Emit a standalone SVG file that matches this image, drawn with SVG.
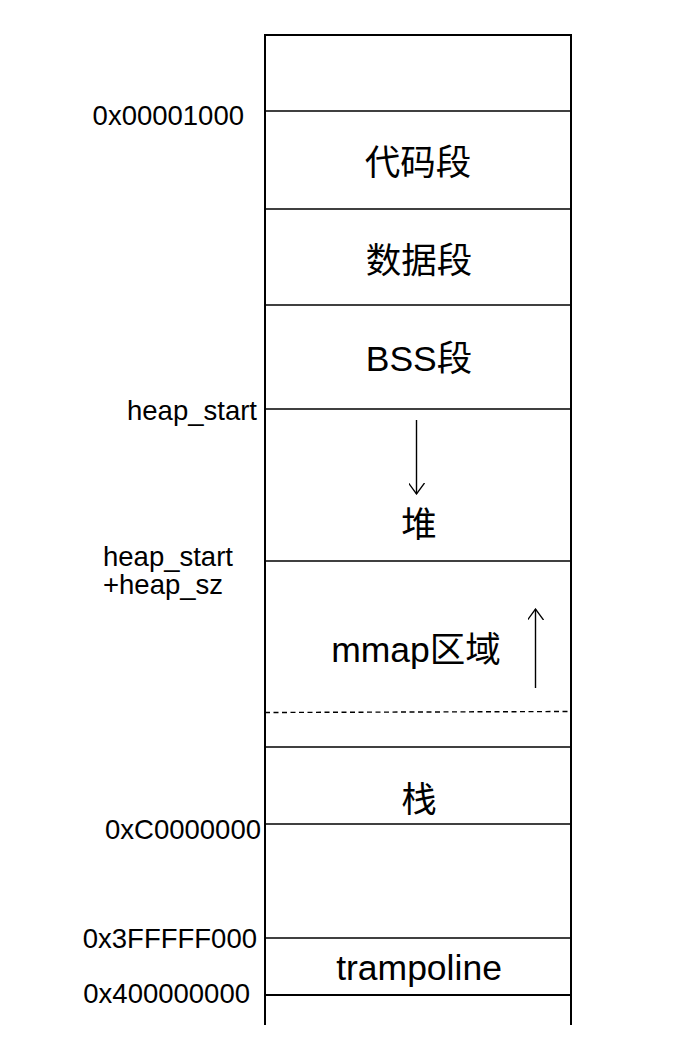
<svg xmlns="http://www.w3.org/2000/svg" width="685" height="1046" viewBox="0 0 685 1046">
<style>
.seg{font-family:"Liberation Sans","Noto Sans CJK SC",sans-serif;font-size:35.5px;fill:#000;text-anchor:middle}
.lbl{font-family:"Liberation Sans",Arial,sans-serif;font-size:27.5px;fill:#000}
.r{text-anchor:end}
.ln{stroke:#000;stroke-width:1.4;fill:none}
.bd{stroke:#000;stroke-width:2;fill:none}
</style>
<defs>
<marker id="open" viewBox="0 0 12 16" refX="11" refY="8" markerWidth="12" markerHeight="16" markerUnits="userSpaceOnUse" orient="auto">
<path d="M0,0 L11,8 L0,16" fill="none" stroke="#000" stroke-width="1.3"/>
</marker>
</defs>
<rect width="685" height="1046" fill="#fff"/>
<g id="frame">
<line class="bd" x1="265" y1="35" x2="571" y2="35"/>
<line class="bd" x1="265" y1="34" x2="265" y2="1025"/>
<line class="bd" x1="571" y1="34" x2="571" y2="1025"/>
</g>
<g id="separators">
<line class="ln" x1="265" y1="111" x2="571" y2="111"/>
<line class="ln" x1="265" y1="209" x2="571" y2="209"/>
<line class="ln" x1="265" y1="305" x2="571" y2="305"/>
<line class="ln" x1="265" y1="409" x2="571" y2="409"/>
<line class="ln" x1="265" y1="561" x2="571" y2="561"/>
<line class="ln" x1="265" y1="712.5" x2="571" y2="711.5" stroke-dasharray="5,3.5" stroke-width="1.2"/>
<line class="ln" x1="265" y1="747" x2="571" y2="747"/>
<line class="ln" x1="265" y1="824" x2="571" y2="824"/>
<line class="ln" x1="265" y1="938" x2="571" y2="938"/>
<line class="bd" x1="265" y1="995" x2="571" y2="995"/>
</g>
<g id="code"><text class="seg" x="418" y="175">代码段</text></g>
<g id="data"><text class="seg" x="419" y="273">数据段</text></g>
<g id="bss"><text class="seg" x="419" y="371">BSS段</text></g>
<g id="heap"><text class="seg" x="419" y="537">堆</text></g>
<g id="mmap"><text class="seg" x="416" y="662">mmap区域</text></g>
<g id="stack"><text class="seg" x="419" y="812">栈</text></g>
<g id="trampoline"><text class="seg" x="419" y="980">trampoline</text></g>
<g id="connectors">
<line class="ln" x1="416.5" y1="420" x2="416.5" y2="494" marker-end="url(#open)"/>
<line class="ln" x1="535.5" y1="688" x2="535.5" y2="609" marker-end="url(#open)"/>
</g>
<g id="labels">
<text class="lbl r" x="244" y="125">0x00001000</text>
<text class="lbl r" x="257" y="420">heap_start</text>
<text class="lbl" x="103"><tspan x="103" y="566">heap_start</tspan><tspan x="103" y="594">+heap_sz</tspan></text>
<text class="lbl r" x="261" y="839">0xC0000000</text>
<text class="lbl r" x="257" y="948">0x3FFFFF000</text>
<text class="lbl r" x="250" y="1003">0x400000000</text>
</g>
</svg>
